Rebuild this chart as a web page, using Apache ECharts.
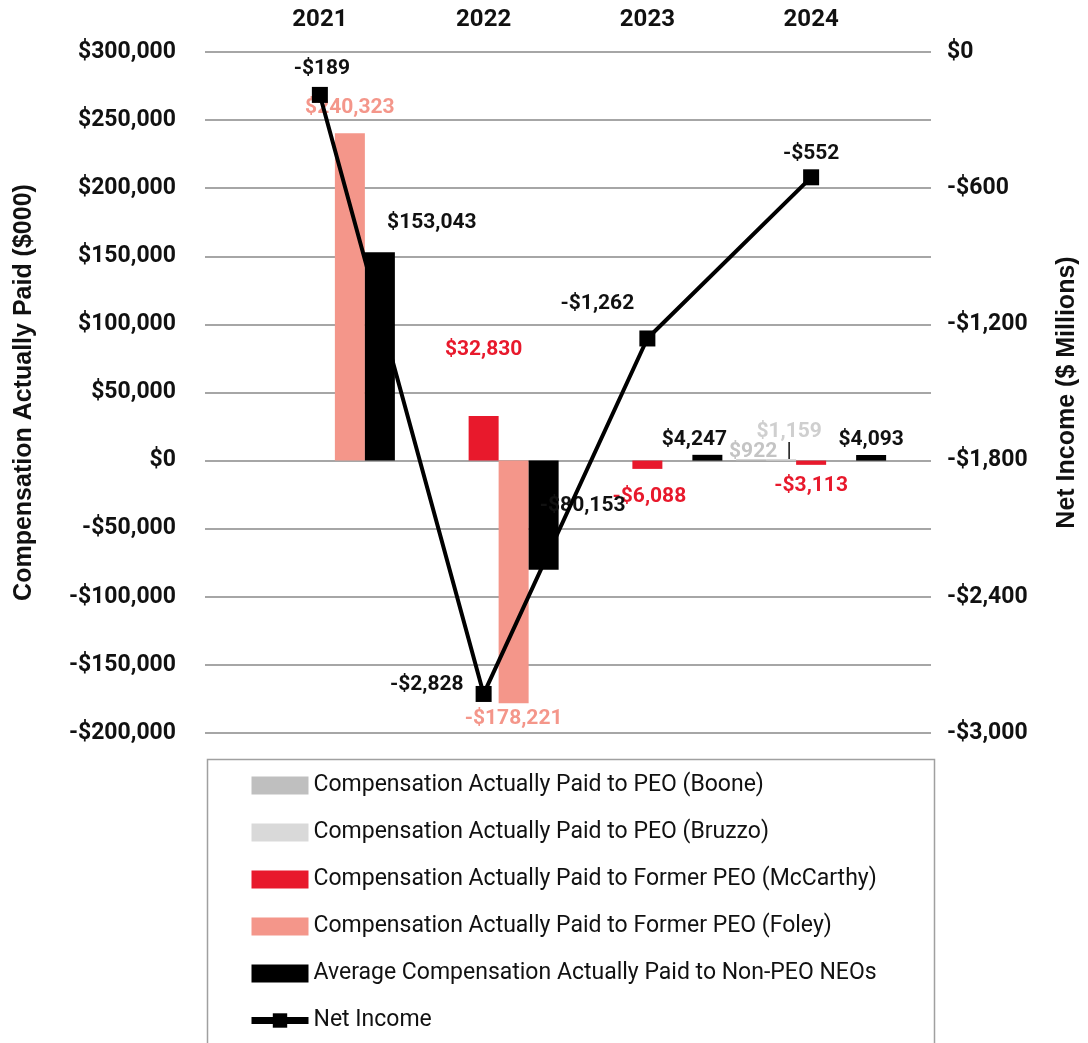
<!DOCTYPE html>
<html>
<head>
    <meta charset="UTF-8">
    <title>Compensation Actually Paid vs Net Income</title>
    <script type="text/javascript" src="https://cdn.jsdelivr.net/npm/echarts@6/dist/echarts.min.js"></script>
    <style>
        html, body { margin: 0; padding: 0; background: #fff; }
    </style>
</head>
<body>
    <div id="main" style="width:1088px;height:1043px;"></div>
    <script type="text/javascript">
        // data
        var years = ['2021', '2022', '2023', '2024'];
        var boone = [null, null, null, 922];
        var bruzzo = [null, null, null, 1159];
        var mccarthy = [null, 32830, -6088, -3113];
        var foley = [240323, -178221, null, null];
        var neos = [153043, -80153, 4247, 4093];
        var netIncome = [-189, -2828, -1262, -552];

        var leftTicks = { min: -200000, max: 300000, interval: 50000 };
        var rightTicks = { min: -3000, max: 0, interval: 600 };

        var FONT = 'Roboto';
        var NAME_FONT = 'Liberation Sans';

        function money(v) {
            var s = '$' + Math.abs(v).toLocaleString('en-US');
            return v < 0 ? '-' + s : s;
        }

        // label nudges per point (style only)
        var booneOff = [null, null, null, [2, 8]];
        var foleyOff = [[0, -10], [0, 0]];
        var mccOff = [null, [0, -51], [2, 12], [0, 5]];
        var neoOff = [[52, -14], [39, -80], [-13, 0], [0, 0]];
        var niOff = [[2, -3], [-7, -9], [-50, -11], [0, 0]];

        function barItems(arr, offs) {
            return arr.map(function (v, i) {
                if (v === null) return null;
                var item = { value: v };
                if (offs && offs[i]) item.label = { offset: offs[i] };
                return item;
            });
        }

        function lbl(color) {
            return {
                show: true,
                position: 'outside',
                distance: 5,
                fontFamily: FONT,
                fontWeight: 'bold',
                fontSize: 21,
                color: color,
                formatter: function (p) { return money(p.value); }
            };
        }

        var axisText = { fontFamily: FONT, fontWeight: 'bold', fontSize: 23, color: '#111' };
        var nameText = { fontFamily: NAME_FONT, fontWeight: 'bold', fontSize: 25, color: '#111' };

        var myChart = echarts.init(document.getElementById('main'));

        var option = {
            animation: false,
            backgroundColor: '#fff',
            grid: [
                { left: 205, right: 156, top: 52, bottom: 310 },
                { left: 238, right: 195, top: 52, bottom: 310 }
            ],
            xAxis: [
                { type: 'value', gridIndex: 0, show: false, min: 0, max: 1 },
                {
                    type: 'category', gridIndex: 1, position: 'top', data: years,
                    axisLine: { show: false }, axisTick: { show: false },
                    axisLabel: Object.assign({ margin: 20 }, axisText, { fontSize: 24 })
                }
            ],
            yAxis: [
                {
                    type: 'value', gridIndex: 0, position: 'left',
                    min: leftTicks.min, max: leftTicks.max, interval: leftTicks.interval,
                    name: 'Compensation Actually Paid ($000)',
                    nameLocation: 'middle', nameGap: 168,
                    nameTextStyle: nameText,
                    axisLine: { show: false }, axisTick: { show: false },
                    axisLabel: Object.assign({ margin: 29, formatter: money }, axisText),
                    splitLine: { lineStyle: { color: '#a6a6a6', width: 2 } }
                },
                {
                    type: 'value', gridIndex: 0, position: 'right',
                    min: rightTicks.min, max: rightTicks.max, interval: rightTicks.interval,
                    name: 'Net Income ($ Millions)',
                    nameLocation: 'middle', nameGap: 124,
                    nameTextStyle: nameText,
                    axisLine: { show: false }, axisTick: { show: false },
                    axisLabel: Object.assign({ margin: 16, formatter: money }, axisText),
                    splitLine: { show: false }
                },
                { type: 'value', gridIndex: 1, show: false, min: leftTicks.min, max: leftTicks.max, splitLine: { show: false } },
                { type: 'value', gridIndex: 1, show: false, min: rightTicks.min, max: rightTicks.max, splitLine: { show: false } }
            ],
            legend: {
                orient: 'vertical',
                left: 248,
                top: 774,
                padding: 0,
                itemWidth: 57,
                itemHeight: 18,
                itemGap: 24,
                textStyle: { fontFamily: FONT, fontSize: 23, color: '#111' },
                data: [
                    { name: 'Compensation Actually Paid to PEO (Boone)', icon: 'rect' },
                    { name: 'Compensation Actually Paid to PEO (Bruzzo)', icon: 'rect' },
                    { name: 'Compensation Actually Paid to Former PEO (McCarthy)', icon: 'rect' },
                    { name: 'Compensation Actually Paid to Former PEO (Foley)', icon: 'rect' },
                    { name: 'Average Compensation Actually Paid to Non-PEO NEOs', icon: 'rect' },
                    { name: 'Net Income', lineStyle: { width: 7 } }
                ]
            },
            graphic: [
                {
                    type: 'rect', left: 205, top: 757, silent: true,
                    shape: { width: 727, height: 300 },
                    style: { fill: 'none', stroke: '#a0a0a0', lineWidth: 1.5 }
                }
            ],
            series: [
                {
                    name: 'Compensation Actually Paid to PEO (Boone)',
                    type: 'bar', xAxisIndex: 1, yAxisIndex: 2,
                    barWidth: 30, barGap: '0%',
                    itemStyle: { color: '#bfbfbf' },
                    label: lbl('#c4c4c4'),
                    data: barItems(boone, booneOff)
                },
                {
                    name: 'Compensation Actually Paid to PEO (Bruzzo)',
                    type: 'bar', xAxisIndex: 1, yAxisIndex: 2,
                    barWidth: 30, barGap: '0%',
                    itemStyle: { color: '#d9d9d9' },
                    label: lbl('#cfcfcf'),
                    labelLayout: { dx: 8, dy: -12 },
                    labelLine: { show: true, lineStyle: { color: '#111', width: 1.5 } },
                    data: barItems(bruzzo)
                },
                {
                    name: 'Compensation Actually Paid to Former PEO (McCarthy)',
                    type: 'bar', xAxisIndex: 1, yAxisIndex: 2,
                    barWidth: 30, barGap: '0%',
                    itemStyle: { color: '#e8192c' },
                    label: lbl('#e8192c'),
                    data: barItems(mccarthy, mccOff)
                },
                {
                    name: 'Compensation Actually Paid to Former PEO (Foley)',
                    type: 'bar', xAxisIndex: 1, yAxisIndex: 2,
                    barWidth: 30, barGap: '0%',
                    itemStyle: { color: '#f4968a' },
                    label: lbl('#f4968a'),
                    data: barItems(foley, foleyOff)
                },
                {
                    name: 'Average Compensation Actually Paid to Non-PEO NEOs',
                    type: 'bar', xAxisIndex: 1, yAxisIndex: 2,
                    barWidth: 30, barGap: '0%',
                    itemStyle: { color: '#000' },
                    label: lbl('#111'),
                    data: barItems(neos, neoOff)
                },
                {
                    name: 'Net Income',
                    type: 'line', xAxisIndex: 1, yAxisIndex: 3,
                    symbol: 'rect', symbolSize: 16,
                    lineStyle: { color: '#000', width: 4 },
                    itemStyle: { color: '#000' },
                    z: 5,
                    label: {
                        show: true, position: 'top', distance: 5,
                        fontFamily: FONT, fontWeight: 'bold', fontSize: 21, color: '#111',
                        formatter: function (p) { return money(p.value); }
                    },
                    data: netIncome.map(function (v, i) {
                        var item = { value: v, label: { offset: niOff[i] } };
                        if (i === 1) item.label.position = 'left';
                        return item;
                    })
                }
            ]
        };

        myChart.setOption(option);
    </script>
</body>
</html>
